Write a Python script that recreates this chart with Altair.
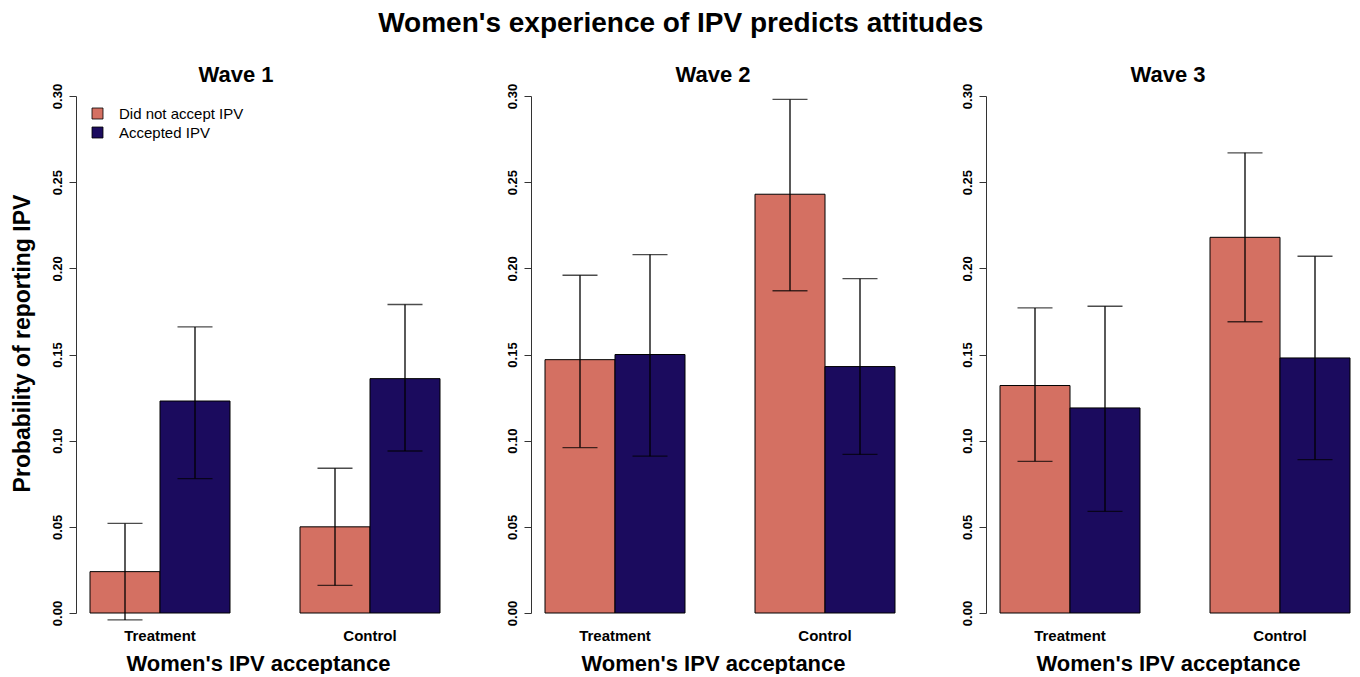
import altair as alt
import pandas as pd

waves = ["Wave 1", "Wave 2", "Wave 3"]
groups = ["Treatment", "Control"]
accept = ["Did not accept IPV", "Accepted IPV"]

# values per wave: [Treatment-not, Treatment-acc, Control-not, Control-acc]
est = {
    "Wave 1": [0.024, 0.123, 0.050, 0.136],
    "Wave 2": [0.147, 0.150, 0.243, 0.143],
    "Wave 3": [0.132, 0.119, 0.218, 0.148],
}
lo = {
    "Wave 1": [-0.004, 0.078, 0.016, 0.094],
    "Wave 2": [0.096, 0.091, 0.187, 0.092],
    "Wave 3": [0.088, 0.059, 0.169, 0.089],
}
hi = {
    "Wave 1": [0.052, 0.166, 0.084, 0.179],
    "Wave 2": [0.196, 0.208, 0.298, 0.194],
    "Wave 3": [0.177, 0.178, 0.267, 0.207],
}
yticks = [0.00, 0.05, 0.10, 0.15, 0.20, 0.25, 0.30]
colors = ["#D47062", "#1B0B5E"]

rows = []
for w in waves:
    i = 0
    for g in groups:
        for a in accept:
            rows.append({"wave": w, "group": g, "accept": a,
                         "value": est[w][i], "lo": lo[w][i], "hi": hi[w][i]})
            i += 1
df = pd.DataFrame(rows)

FONT = "Liberation Sans"


def panel(w, first):
    d = df[df.wave == w]
    base = alt.Chart(d)
    xenc = alt.X("group:N", sort=groups,
                 scale=alt.Scale(paddingInner=1 / 3, paddingOuter=1 / 30, align=1),
                 axis=alt.Axis(title="Women's IPV acceptance", domain=False, ticks=False,
                               labelAngle=0, labelFontSize=15, labelFontWeight="bold",
                               labelPadding=15, titleFontSize=22, titleFontWeight="bold",
                               titlePadding=10, labelColor="black", titleColor="black"))
    xoff = alt.XOffset("accept:N", sort=accept,
                       scale=alt.Scale(paddingInner=0, paddingOuter=0))
    yscale = alt.Scale(domain=[0, 0.3], nice=False, zero=False)
    yargs = dict(values=yticks, format=".2f", labelAngle=-90, labelAlign="center",
                 labelBaseline="bottom", labelFontSize=13, labelFontWeight="bold",
                 labelPadding=5, tickSize=7, tickColor="#333", domainColor="#333",
                 labelColor="black", grid=False)
    if first:
        yaxis = alt.Axis(title="Probability of reporting IPV", titleFontSize=23,
                         titleFontWeight="bold", titlePadding=17, titleColor="black",
                         titleY=247, **yargs)
    else:
        yaxis = alt.Axis(title=None, **yargs)
    if first:
        legend = alt.Legend(title=None, orient="none", legendX=14, legendY=10,
                            symbolType="square", symbolSize=121, symbolStrokeColor="black",
                            symbolStrokeWidth=0.8, labelFontSize=15, labelFont=FONT,
                            rowPadding=3, labelOffset=14, padding=0)
    else:
        legend = None
    bars = base.mark_bar(stroke="black", strokeWidth=1).encode(
        x=xenc, xOffset=xoff,
        y=alt.Y("value:Q", scale=yscale, axis=yaxis),
        color=alt.Color("accept:N", sort=accept,
                        scale=alt.Scale(domain=accept, range=colors),
                        legend=legend),
    )
    rule = base.mark_rule(color="black", strokeWidth=1.3).encode(
        x=alt.X("group:N", sort=groups), xOffset=alt.XOffset("accept:N", sort=accept),
        y="lo:Q", y2="hi:Q",
    )
    tlo = base.mark_tick(color="black", thickness=1.3, size=35).encode(
        x=alt.X("group:N", sort=groups), xOffset=alt.XOffset("accept:N", sort=accept),
        y="lo:Q",
    )
    thi = base.mark_tick(color="black", thickness=1.3, size=35).encode(
        x=alt.X("group:N", sort=groups), xOffset=alt.XOffset("accept:N", sort=accept),
        y="hi:Q",
    )
    return alt.layer(bars, rule, tlo, thi).properties(
        width=364, height=517,
        title=alt.TitleParams(w, fontSize=22, fontWeight="bold", font=FONT,
                              color="black", offset=-4, anchor="middle",
                              dx=-22 if first else 0),
    )


chart = alt.hconcat(
    panel("Wave 1", True), panel("Wave 2", False), panel("Wave 3", False),
    spacing=65,
).properties(
    title=alt.TitleParams("Women's experience of IPV predicts attitudes", fontSize=28,
                          fontWeight="bold", font=FONT, color="black", anchor="middle",
                          offset=26),
    padding={"left": 3, "top": 2, "right": 0, "bottom": 0},
).resolve_scale(
    x="independent", y="independent", color="shared"
).configure(font=FONT).configure_view(
    stroke="transparent", strokeWidth=0
).configure_axis(labelFont=FONT, titleFont=FONT)

chart.save("out.html", embed_options={"renderer": "svg", "actions": False})
